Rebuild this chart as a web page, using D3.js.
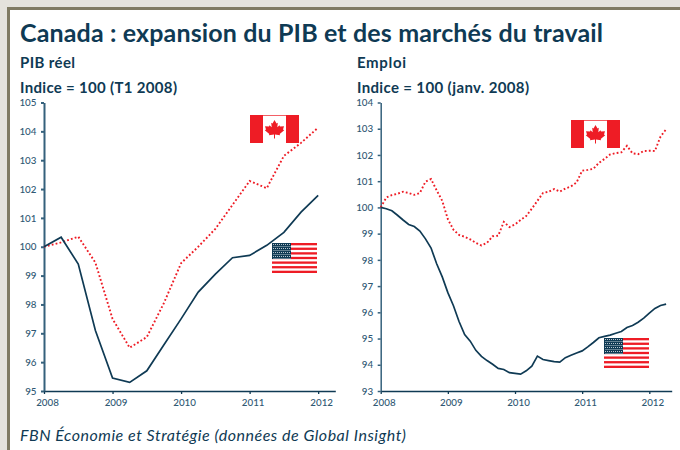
<!DOCTYPE html>
<html><head><meta charset="utf-8">
<script src="https://cdn.jsdelivr.net/npm/d3@7/dist/d3.min.js"></script>
<style>html,body{margin:0;padding:0;background:#fff}svg{display:block}text{font-family:Lato,"Open Sans",sans-serif}</style>
</head><body><svg id="c" width="680" height="450"></svg>
<script>
const titleText = "Canada : expansion du PIB et des marchés du travail";
const sourceText = "FBN Économie et Stratégie (données de Global Insight)";
const leftTitle = "PIB réel", leftSub = "Indice = 100 (T1 2008)";
const rightTitle = "Emploi", rightSub = "Indice = 100 (janv. 2008)";
const yearTicks = [2008, 2009, 2010, 2011, 2012];
const gdpQuarters = [2008,2008.25,2008.5,2008.75,2009,2009.25,2009.5,2009.75,2010,2010.25,2010.5,2010.75,2011,2011.25,2011.5,2011.75,2012];
const gdpCanada = [100,100.15,100.35,99.45,97.5,96.5,96.87,98.05,99.43,100,100.62,101.45,102.28,102.03,103.15,103.6,104.13];
const gdpUS = [100,100.33,99.4,97.1,95.45,95.3,95.7,96.6,97.5,98.43,99.05,99.62,99.7,100.05,100.5,101.2,101.78];
const empCanada = [100,100.38,100.47,100.52,100.6,100.55,100.48,100.55,100.98,101.08,100.65,100.25,99.55,99.15,98.95,98.88,98.78,98.65,98.55,98.65,98.9,98.92,99.45,99.25,99.35,99.52,99.67,99.95,100.25,100.55,100.6,100.7,100.6,100.72,100.8,100.95,101.4,101.43,101.47,101.7,101.85,102.02,102.07,102.1,102.35,102.06,102.03,102.15,102.16,102.15,102.7,102.98];
const empUS = [100,99.95,99.87,99.7,99.52,99.35,99.27,99.1,98.8,98.45,97.85,97.35,96.75,96.25,95.65,95.15,94.9,94.55,94.32,94.16,94.02,93.86,93.82,93.7,93.67,93.64,93.77,93.95,94.33,94.2,94.16,94.12,94.1,94.27,94.36,94.45,94.53,94.68,94.85,95.03,95.08,95.13,95.2,95.27,95.42,95.5,95.62,95.78,95.97,96.15,96.26,96.31];
const monthIndex = empUS.map((_, i) => i);

const NAVY = "#0f3a54", TICK = "#2f5873", AXISC = "#35617c", RED = "#ee1c25";
const svg = d3.select("#c");
svg.append("rect").attr("width",680).attr("height",450).attr("fill","#e4e2dc");
svg.append("rect").attr("x",7).attr("y",7).attr("width",673).attr("height",443).attr("fill","#7f7a62");
svg.append("rect").attr("x",10).attr("y",10).attr("width",670).attr("height",440).attr("fill","#fff");

const txt = (x,y,s,size,weight,style,len) => svg.append("text").attr("x",x).attr("y",y).attr("fill",NAVY)
  .attr("font-size",size).attr("font-weight",weight||400).attr("font-style",style||"normal")
  .attr("textLength",len).attr("lengthAdjust","spacing").text(s);
txt(20,41.5,titleText,25,700,"normal",583);
txt(20,68,leftTitle,15,700,"normal",55);
txt(20,92.5,leftSub,15,700,"normal",157);
txt(357,68,rightTitle,15,700,"normal",49);
txt(357,92.5,rightSub,15,700,"normal",172);
txt(20,441,sourceText,16,400,"italic",386);

function panel(o){
  const x = d3.scaleLinear().domain([2008,o.xMax]).range([o.x0,o.x1]);
  const y = d3.scaleLinear().domain(o.yDomain).range([391,102.5]);
  const g = svg.append("g");
  const ax = g.append("g").attr("transform","translate(0,391)")
    .call(d3.axisBottom(x).tickValues(yearTicks).tickFormat(d3.format("d")).tickSize(3).tickPadding(5).tickSizeOuter(0));
  const ay = g.append("g").attr("transform",`translate(${o.x0},0)`)
    .call(d3.axisLeft(y).ticks(o.yDomain[1]-o.yDomain[0]).tickFormat(d3.format("d")).tickSize(3).tickPadding(4.5).tickSizeOuter(0));
  ax.selectAll("text").attr("dx",3).attr("font-size",9.8).attr("fill",TICK).attr("font-family","Lato").attr("font-weight",500);
  ay.selectAll("text").attr("font-size",9.8).attr("fill",TICK).attr("font-family","Lato").attr("font-weight",500);
  ax.selectAll("line,path").attr("stroke",NAVY).attr("stroke-width",1.3);
  ay.selectAll("line,path").attr("stroke",AXISC).attr("stroke-width",o.yAxisW);
  const line = d3.line().x(d=>x(d[0])).y(d=>y(d[1]));
  g.append("path").datum(d3.zip(o.xs,o.red)).attr("d",line).attr("fill","none").attr("stroke",RED)
    .attr("stroke-width",1.9).attr("stroke-dasharray","1.8 2.2");
  g.append("path").datum(d3.zip(o.xs,o.navy)).attr("d",line).attr("fill","none").attr("stroke",NAVY).attr("stroke-width",1.7);
  canada(o.ca[0],o.ca[1]);
  usa(o.us[0],o.us[1]);
}

function canada(x,y){
  const g = svg.append("g").attr("transform",`translate(${x},${y})`);
  g.append("rect").attr("width",49).attr("height",28).attr("fill",RED);
  g.append("rect").attr("x",13).attr("y",0.7).attr("width",23).attr("height",27.3).attr("fill","#fff");
  const leaf = [[0,-9],[2,-5.5],[3.3,-6.3],[2.8,-1.8],[5,-3.7],[5.5,-2.4],[9.5,-2.8],[8.5,0.6],[9.7,1.3],[5.2,5],[5.6,6.3],[0.5,5.6],[0.5,9.5],[-0.5,9.5],[-0.5,5.6],[-5.6,6.3],[-5.2,5],[-9.7,1.3],[-8.5,0.6],[-9.5,-2.8],[-5.5,-2.4],[-5,-3.7],[-2.8,-1.8],[-3.3,-6.3],[-2,-5.5]];
  g.append("polygon").attr("transform","translate(24.5,14)").attr("fill",RED).attr("points",leaf.map(p=>p.join(",")).join(" "));
}
function usa(x,y){
  const g = svg.append("g").attr("transform",`translate(${x},${y})`);
  const h = 30, n = 13, sh = h/n;
  d3.range(0,13,2).forEach(i=>g.append("rect").attr("y",i*sh).attr("width",45).attr("height",sh).attr("fill",RED));
  g.append("rect").attr("width",19).attr("height",16).attr("fill",NAVY);
  d3.range(1,19,2).forEach(a=>d3.range(1,16,2).forEach(b=>g.append("rect").attr("x",a+(b%4==1?0:0.5)).attr("y",b).attr("width",1).attr("height",1).attr("fill","#b9c6cf")));
}

panel({x0:44,x1:335.3,xMax:2012.25,yDomain:[95,105],yAxisW:2,xs:gdpQuarters,red:gdpCanada,navy:gdpUS,ca:[250,115],us:[272,243]});
panel({x0:380.7,x1:671.7,xMax:2012+1/3,yDomain:[93,104],yAxisW:1.5,xs:monthIndex.map(m=>2008+m/12),red:empCanada,navy:empUS,ca:[571,120],us:[604,338]});
</script></body></html>
